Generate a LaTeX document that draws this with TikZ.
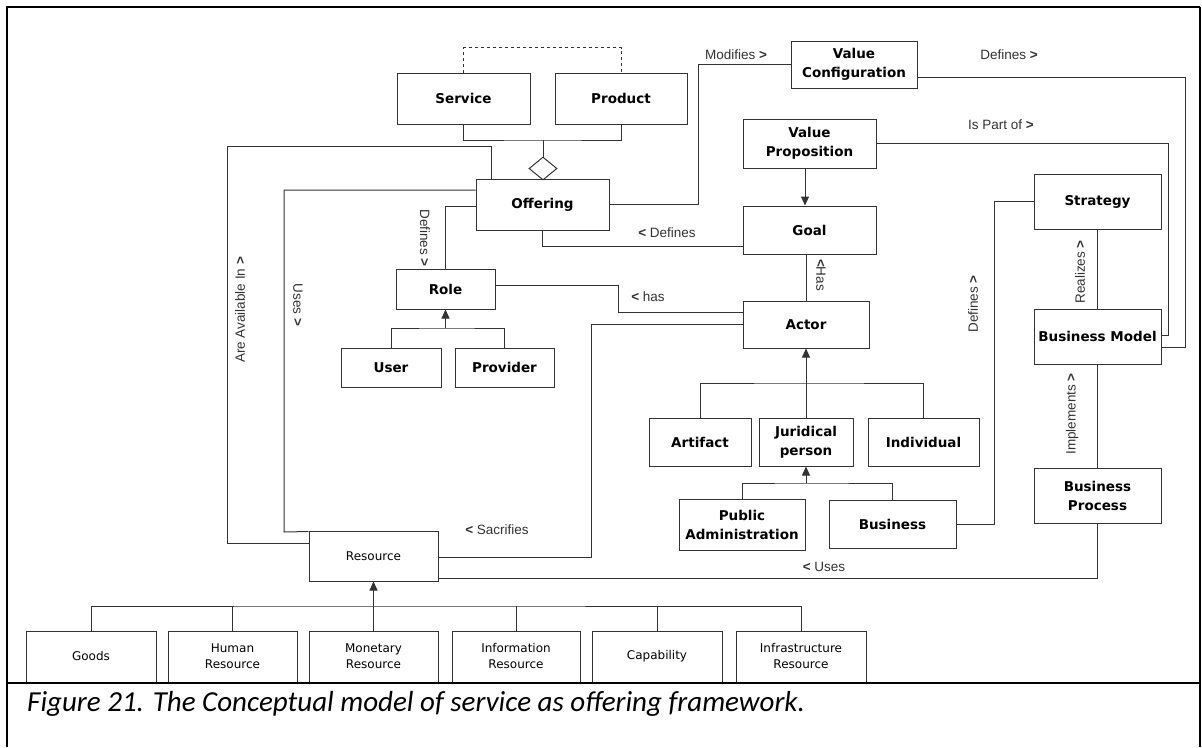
\documentclass[tikz,border=0pt]{standalone}
\usepackage{fontspec}
\setmainfont{Carlito}
\newfontfamily\boxfont{DejaVu Sans}
\newfontfamily\lblfont{Liberation Sans}
\usetikzlibrary{shapes.geometric,arrows.meta}
\definecolor{ink}{RGB}{50,50,50}
\tikzset{
  sz/.style 2 args={minimum width=#1pt, minimum height=#2pt},
  umlbox/.style={draw=ink, line width=1pt, fill=white, inner sep=1pt, align=center,
    font=\boxfont\bfseries\fontsize{13.5}{19}\selectfont},
  resbox/.style={draw=ink, line width=1pt, fill=white, inner sep=1pt, align=center,
    font=\boxfont\fontsize{12}{16}\selectfont},
  conn/.style={draw=ink, line width=1pt},
  gen/.style={conn, -{Triangle[length=9pt,width=8pt]}},
  lbl/.style={font=\lblfont\fontsize{13.5}{16}\selectfont, text=ink, inner sep=0pt},
}
\begin{document}
\begin{tikzpicture}[x=1pt,y=-1pt]
\useasboundingbox (0,0) rectangle (1202,747);

% table frame and caption row
\draw[line width=2.4pt] (7,747) -- (7,7) -- (1200,7);
\draw[line width=1.2pt] (1200,7) -- (1200,747);

% ---------- classes ----------
\node[umlbox, sz={133}{51}] (srv)  at (463.5,98.5) {Service};
\node[umlbox, sz={132}{51}] (prd)  at (621,98.5)   {Product};
\node[umlbox, sz={133}{51}] (off)  at (542.5,204.5) {Offering};
\node[draw=ink, line width=1pt, fill=white, shape=diamond, inner sep=0pt, sz={28}{23}] (agg) at (543,168.5) {};
\node[umlbox, sz={126}{47}] (vc)   at (854,64.5)   {Value\\Configuration};
\node[umlbox, sz={133}{49}] (vp)   at (809.5,143.5) {Value\\Proposition};
\node[umlbox, sz={133}{48}] (goal) at (809.5,230)  {Goal};
\node[umlbox, sz={99}{40}]  (role) at (445.5,289)  {Role};
\node[umlbox, sz={100}{39}] (user) at (391,367.5)  {User};
\node[umlbox, sz={99}{39}]  (prov) at (504.5,367.5) {Provider};
\node[umlbox, sz={126}{47}] (act)  at (806,324.5)  {Actor};
\node[umlbox, sz={102}{48}] (art)  at (700,442)    {Artifact};
\node[umlbox, sz={94}{48}]  (jur)  at (806,442)    {Juridical\\person};
\node[umlbox, sz={111}{48}] (ind)  at (923.5,442)  {Individual};
\node[umlbox, sz={126}{51}] (pa)   at (742,524.5)  {Public\\Administration};
\node[umlbox, sz={127}{48}] (bus)  at (892.5,524)  {Business};
\node[umlbox, sz={127}{55}] (str)  at (1097.5,201.5) {Strategy};
\node[umlbox, sz={127}{55}] (bm)   at (1097.5,336.5) {Business Model};
\node[umlbox, sz={127}{55}] (bp)   at (1097.5,495.5) {Business\\Process};
\node[resbox, sz={129}{50}] (res)  at (373.5,556)  {Resource};
\node[resbox, sz={130}{51}] (goods) at (91,656.5)   {Goods};
\node[resbox, sz={129}{51}] (hum)   at (232.5,656.5) {Human\\Resource};
\node[resbox, sz={129}{51}] (mon)   at (373.5,656.5) {Monetary\\Resource};
\node[resbox, sz={128}{51}] (inf)   at (516,656.5)   {Information\\Resource};
\node[resbox, sz={130}{51}] (cap)   at (657,656.5)   {Capability};
\node[resbox, sz={130}{51}] (infra) at (801,656.5)   {Infrastructure\\Resource};

% caption row separator
\draw[line width=2pt] (7,682.5) -- (1200,682.5);

% ---------- Service / Product aggregation ----------
\coordinate (spj) at (543,140);
\draw[conn, dashed] (srv.north) -- ([yshift=25pt]srv.north) -| (prd.north);
\draw[conn] (srv.south) |- (spj) -| (prd.south);
\draw[conn] (spj) -- (agg.north);

% ---------- associations ----------
\draw[conn] ([yshift=13pt]res.west) -| (227,146) -| ([xshift=-51.5pt]off.north);
\draw[conn] ([yshift=14.5pt]off.west) -| (284,532) -- ([yshift=-1pt]res.north west);
\draw[conn] ([yshift=-1.5pt]off.west) -| (role.north);
\draw[conn] (off.south) |- ([yshift=-16pt]goal.west);
\draw[conn] (off.east) -| ([xshift=-92pt]vc.west) -- (vc.west);
\draw[conn] ([yshift=-12.5pt]vc.east) -| ([xshift=24pt,yshift=-10.5pt]bm.east) -- ([yshift=-10.5pt]bm.east);
\draw[conn] (vp.east) -| ([xshift=7pt,yshift=1.5pt]bm.east) -- ([yshift=1.5pt]bm.east);
\draw[gen] ([xshift=-4.5pt]vp.south) -- ([xshift=-4.5pt]goal.north);
\draw[conn] (act.north) -- (act.north |- goal.south);
\draw[conn] ([yshift=4pt]role.east) -| ([xshift=-124pt,yshift=12.5pt]act.west) -- ([yshift=12.5pt]act.west);
\draw[conn] ([yshift=0.5pt]act.west) -| ([xshift=153pt,yshift=-1pt]res.east) -- ([yshift=-1pt]res.east);
\draw[conn] (bp.south) |- ([yshift=-22pt]res.east);
\draw[conn] (str.south) -- (bm.north);
\draw[conn] (bm.south) -- (bp.north);
\draw[conn] (str.west) -| ([xshift=38pt]bus.east) -- (bus.east);

% ---------- generalisations ----------
\coordinate (rj) at (445.5,328);
\draw[conn] (user.north) |- (rj) -| (prov.north);
\draw[gen] (rj) -- (role.south);

\coordinate (aj) at (806,383);
\draw[conn] (art.north) |- (aj) -| (ind.north);
\draw[gen] (jur.north) -- (act.south);

\coordinate (jj) at (806,483);
\draw[conn] (pa.north) |- (jj) -| (bus.north);
\draw[gen] (jj) -- (jur.south);

\coordinate (rb) at (373.5,606);
\draw[conn] (goods.north) |- (rb) -| (infra.north);
\draw[conn] (hum.north) -- (hum.north |- rb);
\draw[conn] (inf.north) -- (inf.north |- rb);
\draw[conn] (cap.north) -- (cap.north |- rb);
\draw[gen] (mon.north) -- (res.south);

% ---------- association labels ----------
\node[lbl] (lmod) at (736,55)  {Modifies \textbf{>}};
\node[lbl] (ldef1) at (1009,55) {Defines \textbf{>}};
\node[lbl] (lpart) at (1001,125) {Is Part of \textbf{>}};
\node[lbl] (ldef2) at (667,233) {\textbf{<} Defines};
\node[lbl] (lhas) at (648,297) {\textbf{<} has};
\node[lbl] (lsac) at (497,530) {\textbf{<} Sacrifies};
\node[lbl] (luse) at (824,567) {\textbf{<} Uses};
\node[lbl, rotate=-90] (ldef3) at (425,238) {Defines \textbf{>}};
\node[lbl, rotate=90]  (lavl) at (240,310) {Are Available In \textbf{>}};
\node[lbl, rotate=-90] (luse2) at (298,305) {Uses \textbf{>}};
\node[lbl, rotate=-90] (lhas2) at (821,275) {\textbf{<}Has};
\node[lbl, rotate=90]  (ldef4) at (973,304) {Defines \textbf{>}};
\node[lbl, rotate=90]  (lrea) at (1080,272) {Realizes \textbf{>}};
\node[lbl, rotate=90]  (limp) at (1072,414) {Implements \textbf{>}};

% ---------- caption ----------
\node[anchor=base west, inner sep=0pt, font=\itshape\fontsize{29}{34}\selectfont] (capt) at (27,711)
  {Figure 21. The Conceptual model of service as offering framework.};
\end{tikzpicture}
\end{document}
